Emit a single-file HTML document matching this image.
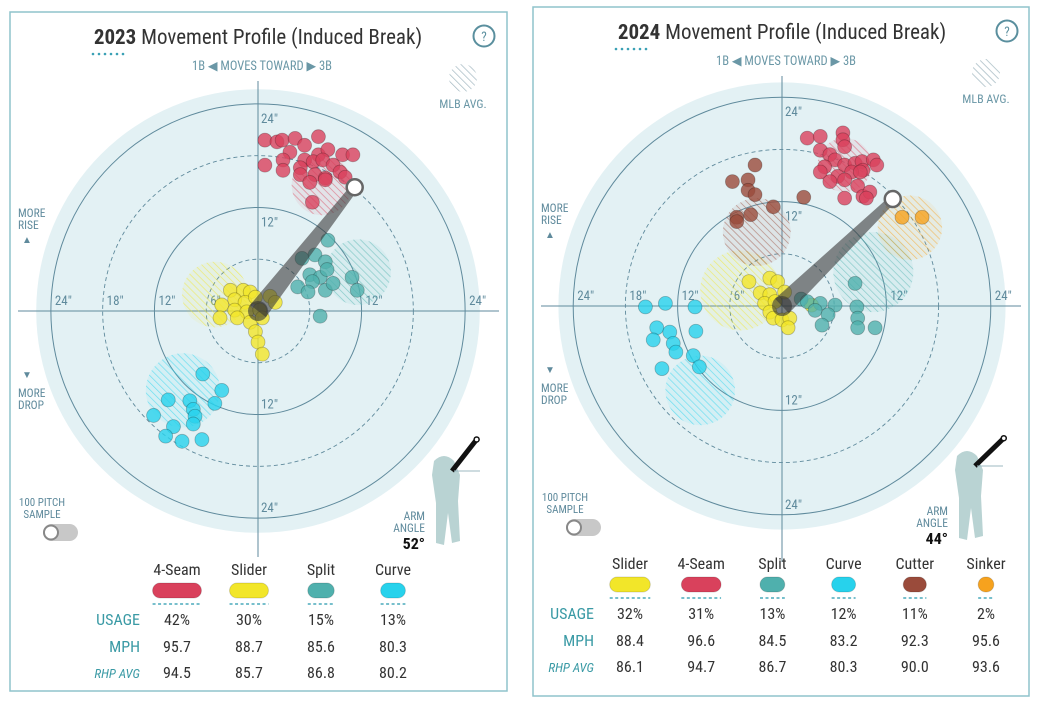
<!DOCTYPE html>
<html><head><meta charset="utf-8"><style>
body{margin:0;background:#fff;}
svg{display:block;font-family:"Roboto Condensed","Liberation Sans",sans-serif;}
</style></head><body>
<svg id="c" width="1048" height="701" viewBox="0 0 1048 701" xmlns="http://www.w3.org/2000/svg">
<defs id="defs"></defs>
</svg>
<script>
// ---- 2023 data (inches: horizontal break, induced vertical break) ----
const p23FourSeamX=[0.8,2.2,2.8,4.3,7.0,5.4,3.7,2.9,5.4,7.0,8.1,9.8,11.0,0.8,2.9,4.9,6.4,7.5,8.7,6.6,7.8,9.5,10.1,4.9,6.0,7.8,6.3];
const p23FourSeamY=[19.8,19.6,19.8,20.0,20.2,19.2,18.4,17.5,17.5,18.1,18.7,18.1,18.1,16.9,16.3,16.6,17.3,17.5,16.9,15.8,15.4,16.1,15.5,15.8,14.9,15.2,12.6];
const p23SliderX=[-3.2,-1.7,-0.9,-2.7,-1.5,-0.3,1.4,2.0,-4.2,-2.7,-1.3,0.2,-4.4,-2.4,-0.9,0.5,-0.3,0,0.5];
const p23SliderY=[2.4,2.4,2.2,1.3,1.0,1.6,1.7,1.0,0.7,0.1,-0.1,0.1,-0.8,-0.8,-1.3,-0.8,-2.4,-3.6,-5.0];
const p23SplitX=[8.1,6.6,5.1,7.8,6.0,7.2,8.0,6.3,4.6,5.8,7.8,8.7,10.9,11.5,7.2];
const p23SplitY=[8.2,6.5,6.1,5.7,4.2,3.9,4.8,3.4,2.8,2.2,2.4,3.2,3.9,2.4,-0.6];
const p23CurveX=[-6.4,-4.2,-5.0,-7.9,-10.4,-7.5,-7.3,-12.1,-9.8,-7.5,-10.7,-8.8,-6.5];
const p23CurveY=[-7.3,-9.2,-10.7,-10.4,-10.3,-11.4,-12.2,-12.1,-13.4,-13.1,-14.5,-15.1,-14.9];
const p23Pitches=["4-Seam","Slider","Split","Curve"];
const p23Usage=["42%","30%","15%","13%"];
const p23Mph=["95.7","88.7","85.6","80.3"];
const p23Rhp=["94.5","85.7","86.8","80.2"];
const p23AvgX=[7.4,-5.0,11.6,-8.7];
const p23AvgY=[14.6,1.9,4.5,-9.2];
const p23AvgR=[3.5,3.8,3.8,4.3];
const p23ArmAngle=52, p23ArmLen=18.2;
// ---- 2024 data ----
const p24SliderX=[-3.8,-1.4,-0.5,-2.5,-1.4,0.3,-2.0,-0.8,-1.4,-1.0,0,0.9,0.7,3.4];
const p24SliderY=[2.8,3.2,2.8,1.5,1.3,1.6,0.3,0.5,-0.7,-1.4,-1.6,-1.4,-2.5,0.1];
const p24FourSeamX=[2.9,4.4,7.0,7.0,7.2,4.4,5.5,6.1,4.9,7.2,8.4,9.2,9.3,10.5,10.9,4.4,6.4,8.0,9.0,5.5,7.2,8.7,9.3,10.1,7.2,9.7];
const p24FourSeamY=[19.3,19.5,19.9,19.1,18.3,17.9,17.4,16.8,16.0,16.2,16.4,16.6,15.6,16.8,16.2,15.4,14.9,15.4,15.4,14.3,14.5,13.8,12.6,13.1,12.4,12.4];
const p24SplitX=[8.4,2.2,2.9,4.4,6.1,3.8,5.3,8.6,8.7,4.6,8.7,10.7];
const p24SplitY=[2.6,0.8,0.5,0.3,0.1,-0.5,-1.0,-0.1,-1.4,-2.2,-2.5,-2.5];
const p24CurveX=[-15.7,-13.4,-10.0,-14.4,-12.9,-14.8,-9.9,-12.5,-13.8,-10.2,-9.5,-12.2];
const p24CurveY=[-0.1,0.3,-0.1,-2.5,-3.0,-3.9,-2.9,-4.3,-7.2,-5.7,-7.0,-5.3];
const p24CutterX=[-3.1,-5.7,-3.9,-3.9,-3.1,2.5,-1.0,-5.2,-5.2,-3.6];
const p24CutterY=[16.2,14.3,14.5,13.3,12.8,12.5,11.4,10.2,9.7,10.5];
const p24SinkerX=[13.8,16.1];
const p24SinkerY=[10.2,10.2];
const p24Pitches=["Slider","4-Seam","Split","Curve","Cutter","Sinker"];
const p24Usage=["32%","31%","13%","12%","11%","2%"];
const p24Mph=["88.4","96.6","84.5","83.2","92.3","95.6"];
const p24Rhp=["86.1","94.7","86.7","80.3","90.0","93.6"];
const p24AvgX=[-4.8,7.2,10.5,-9.4,-2.9,14.7];
const p24AvgY=[1.8,16.2,3.9,-9.7,8.5,9.0];
const p24AvgR=[4.6,3.1,4.6,4.0,3.9,3.7];
const p24ArmAngle=44, p24ArmLen=17.7;

const COL={"4-Seam":"#d9415c","Slider":"#f2e629","Split":"#4fb0ad","Curve":"#27d2ec","Cutter":"#9a4b3b","Sinker":"#f6a21e"};
const NS="http://www.w3.org/2000/svg";
const svg=document.getElementById('c');
const defs=document.getElementById('defs');
function mk(tag,attrs,parent){const e=document.createElementNS(NS,tag);for(const k in attrs)e.setAttribute(k,attrs[k]);(parent||svg).appendChild(e);return e;}
function txt(s,attrs,parent){const e=mk('text',attrs,parent);e.textContent=s;return e;}
Object.keys(COL).forEach((k,i)=>{
  const p=mk('pattern',{id:'h'+i,width:5,height:5,patternUnits:'userSpaceOnUse',patternTransform:'rotate(-45)'},defs);
  mk('rect',{x:0,y:0,width:5,height:5,fill:COL[k],'fill-opacity':0.08},p);
  mk('line',{x1:0,y1:0,x2:0,y2:5,stroke:COL[k],'stroke-width':1.4,'stroke-opacity':0.6},p);
});
const hp=mk('pattern',{id:'hgray',width:5,height:5,patternUnits:'userSpaceOnUse',patternTransform:'rotate(-45)'},defs);
mk('line',{x1:0,y1:0,x2:0,y2:5,stroke:'#8aa5b0','stroke-width':1.4},hp);
function hatchId(name){return 'url(#h'+Object.keys(COL).indexOf(name)+')';}

function panel(o){
  const g=mk('g',{});
  
  
  const {cx,cy,s}=o;
  const X=v=>cx+v*s, Y=v=>cy-v*s;
  const fr=mk('rect',{x:o.bx,y:o.by,width:o.bw,height:o.bh,fill:'#fff',stroke:'#8fc3cc','stroke-width':1.5},g);
  
  const t=txt('',{x:cx,y:o.by+32,'text-anchor':'middle','font-size':21,fill:'#333'},g);
  
  const b=mk('tspan',{'font-weight':'bold'},t);b.textContent=o.year;
  const r=mk('tspan',{},t);r.textContent=' Movement Profile (Induced Break)';
  for(let i=0;i<6;i++)mk('circle',{cx:o.bx+83+i*6,cy:o.by+42,r:1.3,fill:'#3aa0b5'},g);
  const hq=mk('g',{},g);
  mk('circle',{cx:o.bx+474,cy:o.by+24,r:10.5,fill:'none',stroke:'#5a8f9e','stroke-width':2},hq);
  txt('?',{x:o.bx+474,y:o.by+29,'text-anchor':'middle','font-size':13,fill:'#5a8f9e'},hq);
  const dl=txt('1B ◀  MOVES TOWARD  ▶ 3B',{x:cx+4,y:o.by+58,'text-anchor':'middle','font-size':12.5,fill:'#6a97a6'},g);
  
  const ml=mk('g',{},g);
  mk('circle',{cx:o.bx+453,cy:o.by+66,r:14,fill:'url(#hgray)','fill-opacity':0.8},ml);
  txt('MLB AVG.',{x:o.bx+453,y:o.by+96,'text-anchor':'middle','font-size':12,fill:'#6a97a6'},ml);
  const bg=mk('circle',{cx,cy,r:25.7*s,fill:'#e3f1f4'},g);
  [24,12].forEach(v=>mk('circle',{cx,cy,r:v*s,fill:'none',stroke:'#5f8a9c','stroke-width':1},g));
  [18,6].forEach(v=>mk('circle',{cx,cy,r:v*s,fill:'none',stroke:'#5f8a9c','stroke-width':0.9,'stroke-dasharray':'4 3'},g));
  mk('line',{x1:o.bx+8,y1:cy,x2:o.bx+o.bw-8,y2:cy,stroke:'#5f8a9c','stroke-width':1},g);
  mk('line',{x1:cx,y1:o.by+69,x2:cx,y2:o.by+o.bh-134,stroke:'#5f8a9c','stroke-width':1},g);
  const tc='#5f8a9c';
  [[-24,'24"'],[-18,'18"'],[-12,'12"'],[-6,'6"'],[12,'12"'],[24,'24"']].forEach(([v,l])=>txt(l,{x:X(v)+4,y:cy-6,'font-size':13,fill:tc},g));
  [[24,'24"'],[12,'12"'],[-12,'12"'],[-24,'24"']].forEach(([v,l])=>txt(l,{x:cx+3,y:Y(v)+(v>0?19:-6),'font-size':13,fill:tc},g));
  txt('MORE',{x:o.bx+8,y:cy-94,'font-size':11.5,fill:tc},g);txt('RISE',{x:o.bx+8,y:cy-82,'font-size':11.5,fill:tc},g);
  txt('▲',{x:o.bx+12,y:cy-68,'font-size':10,fill:tc},g);
  txt('▼',{x:o.bx+12,y:cy+67,'font-size':10,fill:tc},g);
  txt('MORE',{x:o.bx+8,y:cy+86,'font-size':11.5,fill:tc},g);txt('DROP',{x:o.bx+8,y:cy+98,'font-size':11.5,fill:tc},g);
  o.pitches.forEach((p,i)=>{
    const c=mk('circle',{cx:X(o.avgX[i]),cy:Y(o.avgY[i]),r:o.avgR[i]*s,fill:hatchId(p)},g);
    
    
  });
  o.series.forEach(sr=>{
    sr.x.forEach((v,i)=>{
      const c=mk('circle',{cx:X(v),cy:Y(sr.y[i]),r:7,fill:COL[sr.p],'fill-opacity':0.8,stroke:'rgba(0,0,0,0.25)','stroke-width':0.8},g);
      
      
    });
  });
  const a=o.armAngle*Math.PI/180, L=o.armLen*s;
  const ex=cx+Math.cos(a)*L, ey=cy-Math.sin(a)*L;
  const nx=Math.sin(a), ny=Math.cos(a);
  const arm=mk('polygon',{points:`${cx-nx*10},${cy-ny*10} ${cx+nx*10},${cy+ny*10} ${ex+nx*4},${ey+ny*4} ${ex-nx*4},${ey-ny*4}`,fill:'#3a3a3a','fill-opacity':0.6},g);
  
  mk('circle',{cx,cy,r:10,fill:'#333','fill-opacity':0.6},g);
  mk('circle',{cx:ex,cy:ey,r:8,fill:'#fff',stroke:'#666','stroke-width':2.5},g);
  txt('100 PITCH',{x:o.bx+32,y:cy+195,'text-anchor':'middle','font-size':11,fill:tc},g);
  txt('SAMPLE',{x:o.bx+32,y:cy+207,'text-anchor':'middle','font-size':11,fill:tc},g);
  const tg=mk('g',{},g);
  mk('rect',{x:o.bx+33,y:cy+213,width:35,height:17,rx:8.5,fill:'#c8c8c8'},tg);
  mk('circle',{cx:o.bx+41,cy:cy+221.5,r:7,fill:'#fff',stroke:'#888','stroke-width':2},tg);
  const fx=o.bx+440, fy=cy+150;
  const fig=mk('g',{},g);
  mk('path',{d:`M${fx-16},${fy} q10,-10 20,0 l6,14 l-2,26 l2,40 l-8,2 l-4,-30 l-4,32 l-8,-2 l0,-40 l-4,-28 z`,fill:'#b9d3d3'},fig);
  const hx=fx+2+Math.cos(a)*40, hy=fy+10-Math.sin(a)*40;
  mk('line',{x1:fx+2,y1:fy+10,x2:hx,y2:hy,stroke:'#111','stroke-width':5},fig);
  mk('circle',{cx:hx,cy:hy,r:2.5,fill:'#fff',stroke:'#111','stroke-width':1.5},fig);
  mk('line',{x1:fx+4,y1:fy+10,x2:fx+30,y2:fy+10,stroke:'#9cb8c0','stroke-width':1},fig);
  txt('ARM',{x:fx-25,y:fy+59,'text-anchor':'end','font-size':11.5,fill:tc},g);
  txt('ANGLE',{x:fx-25,y:fy+71,'text-anchor':'end','font-size':11.5,fill:tc},g);
  txt(o.armAngle+'°',{x:fx-25,y:fy+88,'text-anchor':'end','font-size':16,'font-weight':'bold',fill:'#111'},g);
  const ty=o.tableY;
  txt('USAGE',{x:o.labX,y:ty+50,'text-anchor':'end','font-size':16,fill:'#3a9aa5'},g);
  txt('MPH',{x:o.labX,y:ty+77,'text-anchor':'end','font-size':16,fill:'#3a9aa5'},g);
  txt('RHP AVG',{x:o.labX,y:ty+103,'text-anchor':'end','font-size':13,'font-style':'italic',fill:'#3a9aa5'},g);
  o.pitches.forEach((p,i)=>{
    const x=o.col0+i*o.colW;
    const cg=mk('g',{},g);
    txt(p,{x,y:ty,'text-anchor':'middle','font-size':16,fill:'#333'},cg);
    const w=Math.max(15,14+parseFloat(o.usage[i])*0.83);
    mk('rect',{x:x-w/2,y:ty+8,width:w,height:15,rx:7.5,fill:COL[p],stroke:'rgba(0,0,0,0.15)'},cg);
    mk('line',{x1:x-w/2,y1:ty+29,x2:x+w/2,y2:ty+29,stroke:'#4aaabb','stroke-width':1.5,'stroke-dasharray':'3 2.5'},cg);
    txt(o.usage[i],{x,y:ty+50,'text-anchor':'middle','font-size':16,fill:'#333'},cg);
    txt(o.mph[i],{x,y:ty+77,'text-anchor':'middle','font-size':16,fill:'#333'},cg);
    txt(o.rhp[i],{x,y:ty+103,'text-anchor':'middle','font-size':16,fill:'#333'},cg);
  });
}
panel({name:'panel-2023',year:'2023',bx:10,by:12,bw:497,bh:679,cx:258,cy:311,s:8.63,
  pitches:p23Pitches,usage:p23Usage,mph:p23Mph,rhp:p23Rhp,avgX:p23AvgX,avgY:p23AvgY,avgR:p23AvgR,
  series:[{p:'4-Seam',x:p23FourSeamX,y:p23FourSeamY},{p:'Slider',x:p23SliderX,y:p23SliderY},{p:'Split',x:p23SplitX,y:p23SplitY},{p:'Curve',x:p23CurveX,y:p23CurveY}],
  armAngle:p23ArmAngle,armLen:p23ArmLen,tableY:575,labX:140,col0:177,colW:72});
panel({name:'panel-2024',year:'2024',bx:533,by:7,bw:496,bh:689,cx:782,cy:306,s:8.7,
  pitches:p24Pitches,usage:p24Usage,mph:p24Mph,rhp:p24Rhp,avgX:p24AvgX,avgY:p24AvgY,avgR:p24AvgR,
  series:[{p:'Cutter',x:p24CutterX,y:p24CutterY},{p:'4-Seam',x:p24FourSeamX,y:p24FourSeamY},{p:'Slider',x:p24SliderX,y:p24SliderY},{p:'Split',x:p24SplitX,y:p24SplitY},{p:'Curve',x:p24CurveX,y:p24CurveY},{p:'Sinker',x:p24SinkerX,y:p24SinkerY}],
  armAngle:p24ArmAngle,armLen:p24ArmLen,tableY:569,labX:594,col0:630,colW:71.2});
</script>
</body></html>
